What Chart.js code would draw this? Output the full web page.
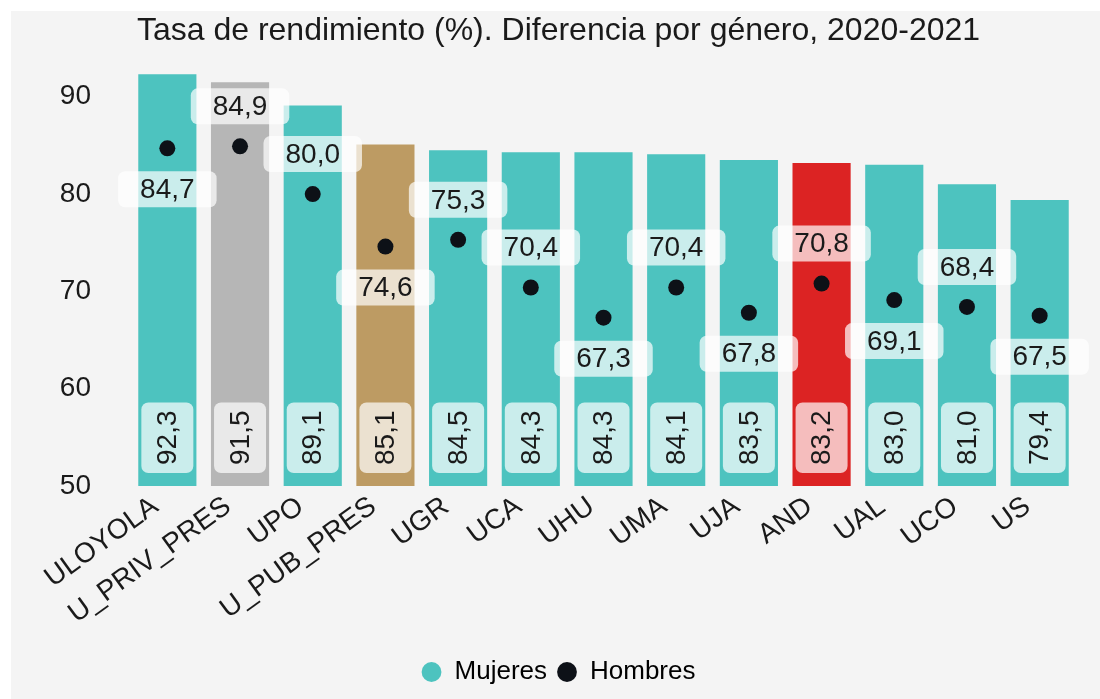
<!DOCTYPE html>
<html>
<head>
<meta charset="utf-8">
<script src="https://cdn.jsdelivr.net/npm/chart.js@4.4.1/dist/chart.umd.min.js"></script>
<style>
  body { margin: 0; background: #ffffff; }
  #wrap { position: absolute; left: 11px; top: 11px; width: 1089px; height: 688px; background: #f4f4f4; }
</style>
</head>
<body>
<div id="wrap"><canvas id="rendChart"></canvas></div>
<script>
  // Data
  const universidades = ['ULOYOLA', 'U_PRIV_PRES', 'UPO', 'U_PUB_PRES', 'UGR', 'UCA', 'UHU', 'UMA', 'UJA', 'AND', 'UAL', 'UCO', 'US'];
  const mujeres = [92.3, 91.5, 89.1, 85.1, 84.5, 84.3, 84.3, 84.1, 83.5, 83.2, 83.0, 81.0, 79.4];
  const hombres = [84.7, 84.9, 80.0, 74.6, 75.3, 70.4, 67.3, 70.4, 67.8, 70.8, 69.1, 68.4, 67.5];
  const yTicks = [50, 60, 70, 80, 90];

  // which side the Hombres label goes
  const labelSide = ['below', 'above', 'above', 'below', 'above', 'above', 'below', 'above', 'below', 'above', 'below', 'above', 'below'];

  const TEAL = '#4dc3bf';
  const barColors = universidades.map(u => {
    if (u === 'U_PRIV_PRES') return '#b6b6b6';
    if (u === 'U_PUB_PRES') return '#bd9b63';
    if (u === 'AND') return '#dc2323';
    return TEAL;
  });

  const FONT = "'Liberation Sans', Arial, sans-serif";
  const fmt = v => v.toFixed(1).replace('.', ',');

  function roundBox(ctx, x, y, w, h, r) {
    ctx.beginPath();
    ctx.moveTo(x + r, y);
    ctx.arcTo(x + w, y, x + w, y + h, r);
    ctx.arcTo(x + w, y + h, x, y + h, r);
    ctx.arcTo(x, y + h, x, y, r);
    ctx.arcTo(x, y, x + w, y, r);
    ctx.closePath();
    ctx.fill();
  }

  // Value labels drawn on top of bars and points
  const valueLabels = {
    id: 'valueLabels',
    afterDatasetsDraw(chart) {
      const ctx = chart.ctx;
      ctx.save();
      ctx.font = '28px ' + FONT;
      ctx.textAlign = 'center';
      ctx.textBaseline = 'middle';

      // Mujeres: rotated, at the foot of each bar
      chart.getDatasetMeta(0).data.forEach((bar, i) => {
        const txt = fmt(mujeres[i]);
        const tw = ctx.measureText(txt).width;
        const bh = tw + 16;
        const cy = bar.base - 13 - bh / 2;
        ctx.save();
        ctx.translate(bar.x, cy);
        ctx.rotate(-Math.PI / 2);
        ctx.fillStyle = 'rgba(255,255,255,0.7)';
        roundBox(ctx, -bh / 2, -26, bh, 52, 7);
        ctx.fillStyle = '#1a1a1a';
        ctx.fillText(txt, 0, 1);
        ctx.restore();
      });

      // Hombres: above or below each point
      chart.getDatasetMeta(1).data.forEach((pt, i) => {
        const txt = fmt(hombres[i]);
        const tw = ctx.measureText(txt).width;
        const cy = labelSide[i] === 'above' ? pt.y - 40 : pt.y + 41;
        ctx.fillStyle = 'rgba(255,255,255,0.7)';
        roundBox(ctx, pt.x - tw / 2 - 22, cy - 18, tw + 44, 36, 7);
        ctx.fillStyle = '#1a1a1a';
        ctx.fillText(txt, pt.x, cy + 1);
      });
      ctx.restore();
    }
  };

  const ctx = document.getElementById('rendChart').getContext('2d');
  const rendChart = new Chart(ctx, {
    type: 'bar',
    data: {
      labels: universidades,
      datasets: [
        {
          label: 'Mujeres',
          data: mujeres,
          backgroundColor: barColors,
          barPercentage: 0.8,
          categoryPercentage: 1,
          base: 50,
          order: 2
        },
        {
          type: 'line',
          label: 'Hombres',
          data: hombres,
          showLine: false,
          pointRadius: 8,
          pointHoverRadius: 8,
          pointBackgroundColor: '#0d1117',
          pointBorderWidth: 0,
          backgroundColor: '#0d1117',
          borderColor: '#0d1117',
          order: 1
        }
      ]
    },
    options: {
      responsive: true,
      maintainAspectRatio: false,
      animation: false,
      layout: { padding: { top: 0, right: 24, bottom: 4, left: 30 } },
      plugins: {
        title: {
          display: true,
          text: 'Tasa de rendimiento (%). Diferencia por género, 2020-2021',
          color: '#1a1a1a',
          font: { family: FONT, size: 32, weight: 'normal' },
          padding: { top: 1, bottom: 22 }
        },
        legend: {
          position: 'bottom',
          labels: {
            color: '#1a1a1a',
            font: { family: FONT, size: 26 },
            usePointStyle: true,
            pointStyle: 'circle',
            boxWidth: 20,
            boxHeight: 14,
            padding: 10,
            generateLabels: () => [
              { text: 'Mujeres', fillStyle: TEAL, strokeStyle: TEAL, lineWidth: 0, pointStyle: 'circle', datasetIndex: 0 },
              { text: 'Hombres', fillStyle: '#0d1117', strokeStyle: '#0d1117', lineWidth: 0, pointStyle: 'circle', datasetIndex: 1 }
            ]
          }
        },
        tooltip: { enabled: false }
      },
      scales: {
        x: {
          grid: { display: false, drawTicks: false },
          border: { display: false },
          ticks: {
            color: '#1a1a1a',
            font: { family: FONT, size: 28 },
            minRotation: 36,
            maxRotation: 36,
            autoSkip: false,
            labelOffset: -12,
            padding: 4
          },
          afterFit(scale) { scale.height = 163; }
        },
        y: {
          min: 50,
          max: 92.5,
          grid: { display: false, drawTicks: false },
          border: { display: false },
          afterBuildTicks(scale) { scale.ticks = yTicks.map(v => ({ value: v })); },
          ticks: {
            color: '#1a1a1a',
            font: { family: FONT, size: 28 },
            padding: 40
          },
          afterFit(scale) { scale.width = 90; }
        }
      }
    },
    plugins: [valueLabels]
  });
</script>
</body>
</html>
